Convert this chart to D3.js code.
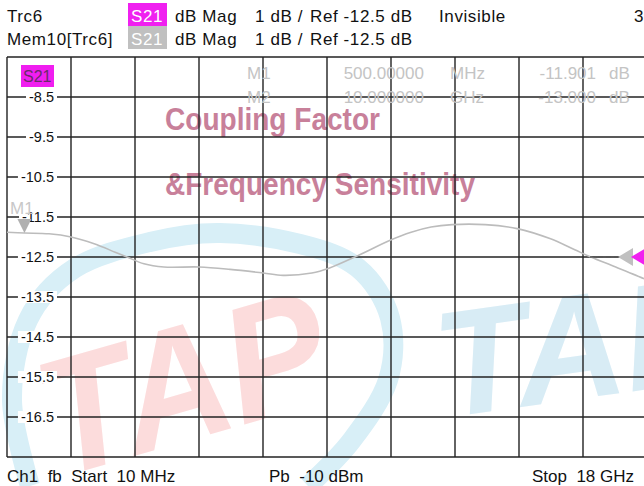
<!DOCTYPE html>
<html>
<head>
<meta charset="utf-8">
<script src="https://cdn.jsdelivr.net/npm/d3@7"></script>
<style>
  body { margin: 0; background: #fff; }
  svg { display: block; font-family: "Liberation Sans", Arial, sans-serif; }
  text { white-space: pre; }
</style>
</head>
<body>
<svg id="chart" width="644" height="486"></svg>
<script>
// trace S21 (GHz / dB)
const freqGHz = [0.01, 0.5, 1.19, 1.81, 2.46, 3.05, 3.38, 3.86, 4.42, 5.41, 6.28, 7.21, 7.77,
                 8.58, 9.06, 9.79, 10.78, 11.37, 11.93, 12.52, 13.45, 14.35, 15.27, 15.97,
                 16.42, 17.12, 17.91, 18.0];
const s21dB = [-11.88, -11.90, -11.92, -12.0, -12.17, -12.38, -12.5, -12.67, -12.75, -12.75,
               -12.81, -12.9, -12.96, -12.9, -12.78, -12.5, -12.08, -11.88, -11.75, -11.69,
               -11.69, -11.79, -12.04, -12.32, -12.5, -12.75, -13.04, -13.08];
const yTicks = [-8.5, -9.5, -10.5, -11.5, -12.5, -13.5, -14.5, -15.5, -16.5];
const markers = [
  {name: "M1", stim: "500.00000", unit: "MHz", val: "-11.901"},
  {name: "M2", stim: "10.000000", unit: "GHz", val: "-13.000"}
];
const startGHz = 0.01, stopGHz = 18;
const refLevel = -12.5, dbPerDiv = 1;

const svg = d3.select("#chart");
const x = d3.scaleLinear().domain([startGHz, stopGHz]).range([7, 647]);
const y = d3.scaleLinear().domain([refLevel - 5 * dbPerDiv, refLevel + 5 * dbPerDiv]).range([457, 57]);

// ---- watermark (logo) ----
const wm = svg.append("g");
const ring = [[30,486],[12,400],[28,320],[75,268],[150,242],[220,233],[300,244],[358,268],
              [390,318],[388,380],[352,440],[308,486]];
wm.append("path")
  .attr("d", d3.line().curve(d3.curveCardinal)(ring))
  .attr("fill", "none").attr("stroke", "#d8eff7").attr("stroke-width", 20);
wm.append("text")
  .attr("transform", "translate(58,478) rotate(-16) scale(0.92,1)")
  .attr("font-size", 165).attr("font-weight", "bold").attr("font-style", "italic")
  .attr("fill", "#fcdcdc").text("TAP");
wm.append("text")
  .attr("transform", "translate(443,418) rotate(-8)")
  .attr("font-size", 150).attr("font-weight", "bold").attr("font-style", "italic")
  .attr("fill", "#d8ecf5").text("TAP");
wm.append("text").attr("x", 165).attr("y", 130)
  .attr("font-size", 32).attr("font-weight", "bold").attr("fill", "#c8809a")
  .attr("textLength", 215).attr("lengthAdjust", "spacingAndGlyphs")
  .text("Coupling Factor");
wm.append("text").attr("x", 165).attr("y", 195)
  .attr("font-size", 32).attr("font-weight", "bold").attr("fill", "#c8809a")
  .attr("textLength", 310).attr("lengthAdjust", "spacingAndGlyphs")
  .text("&Frequency Sensitivity");

// ---- grid ----
const grid = svg.append("g").attr("stroke", "#222").attr("stroke-width", 1.4);
const xDivs = d3.range(11).map(i => startGHz + i * (stopGHz - startGHz) / 10);
const yDivs = d3.range(11).map(i => refLevel - 5 * dbPerDiv + i * dbPerDiv);
grid.selectAll(".v").data(xDivs).join("line")
  .attr("x1", d => x(d)).attr("x2", d => x(d)).attr("y1", y(yDivs[0])).attr("y2", y(yDivs[10]));
grid.selectAll(".h").data(yDivs).join("line")
  .attr("x1", x(startGHz)).attr("x2", x(stopGHz)).attr("y1", d => y(d)).attr("y2", d => y(d));

// ---- marker table ----
const mt = svg.append("g").attr("fill", "#c4c4c4").attr("font-size", 17);
markers.forEach((m, i) => {
  const by = 79 + i * 24;
  mt.append("text").attr("x", 247).attr("y", by).text(m.name);
  mt.append("text").attr("x", 424).attr("y", by).attr("text-anchor", "end").text(m.stim);
  mt.append("text").attr("x", 450).attr("y", by).text(m.unit);
  mt.append("text").attr("x", 596).attr("y", by).attr("text-anchor", "end").text(m.val);
  mt.append("text").attr("x", 609).attr("y", by).text("dB");
});

// ---- y labels ----
const yl = svg.append("g");
yTicks.forEach(v => {
  const t = yl.append("text").attr("x", 54).attr("y", y(v)).attr("dy", "0.36em")
    .attr("text-anchor", "end").attr("font-size", 14.5).attr("fill", "#111")
    .text(v.toFixed(1));
  const w = t.node().getComputedTextLength();
  yl.insert("rect", "text").attr("x", 54 - w - 3).attr("y", y(v) - 6).attr("width", w + 6).attr("height", 12)
    .attr("fill", "#fff");
});

// S21 tag in plot
svg.append("rect").attr("x", 21).attr("y", 65).attr("width", 33).attr("height", 22).attr("fill", "#f01ef0");
svg.append("text").attr("x", 23).attr("y", 82).attr("font-size", 16).attr("fill", "#6a2a6a").text("S21");

// ---- trace ----
const pts = freqGHz.map((f, i) => [f, s21dB[i]]);
svg.append("path")
  .attr("d", d3.line().x(d => x(d[0])).y(d => y(d[1])).curve(d3.curveCatmullRom)(pts))
  .attr("fill", "none").attr("stroke", "#bcbcbc").attr("stroke-width", 1.6);

// M1 marker
const m1x = x(0.5), m1y = y(-11.901);
svg.append("path").attr("d", `M${m1x - 7},${m1y - 14}L${m1x + 7},${m1y - 14}L${m1x},${m1y}Z`).attr("fill", "#b0b0b0");
svg.append("text").attr("x", 10).attr("y", 214).attr("font-size", 17).attr("fill", "#c8c8c8").text("M1");

// reference level arrow on right
const ry = y(refLevel);
svg.append("line").attr("x1", 590).attr("x2", 622).attr("y1", ry).attr("y2", ry)
  .attr("stroke", "#555").attr("stroke-width", 1.5).attr("stroke-dasharray", "5,3");
svg.append("path").attr("d", `M618,${ry}L633,${ry - 9}L633,${ry + 9}Z`).attr("fill", "#c0c0c0");
svg.append("path").attr("d", `M631,${ry}L646,${ry - 9}L646,${ry + 9}Z`).attr("fill", "#f020f0");

// ---- header ----
const hd = svg.append("g").attr("font-size", 17).attr("fill", "#111").attr("letter-spacing", 0.6);
const rows = [{trc: "Trc6", box: "#f020f0", extra: "Invisible"}, {trc: "Mem10[Trc6]", box: "#c0c0c0", extra: ""}];
rows.forEach((r, i) => {
  const by = 22 + i * 23;
  hd.append("text").attr("x", 7).attr("y", by).text(r.trc);
  hd.append("rect").attr("x", 128).attr("y", by - 19).attr("width", 39).attr("height", 23).attr("fill", r.box);
  hd.append("text").attr("x", 131).attr("y", by).attr("fill", "#fff").text("S21");
  hd.append("text").attr("x", 175).attr("y", by).text("dB Mag");
  hd.append("text").attr("x", 255).attr("y", by).text("1 dB /");
  hd.append("text").attr("x", 310).attr("y", by).text("Ref -12.5 dB");
  if (r.extra) hd.append("text").attr("x", 439).attr("y", by).text(r.extra);
});
hd.append("text").attr("x", 634).attr("y", 22).text("3");

// ---- footer ----
const ft = svg.append("g").attr("font-size", 17).attr("fill", "#111");
ft.append("text").attr("x", 7).attr("y", 482).text("Ch1  fb  Start  10 MHz");
ft.append("text").attr("x", 269).attr("y", 482).text("Pb  -10 dBm");
ft.append("text").attr("x", 532).attr("y", 482).text("Stop  18 GHz");
</script>
</body>
</html>
